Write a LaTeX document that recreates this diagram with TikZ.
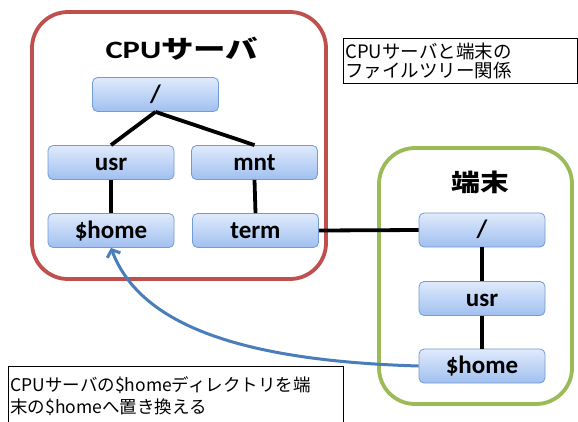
\documentclass[tikz,border=0pt]{standalone}
\usepackage{fontspec}
\usepackage{graphicx}
\setmainfont{Carlito}
\newfontfamily\jp{Noto Sans CJK JP}
\usetikzlibrary{arrows.meta}
\definecolor{redbox}{RGB}{192,80,77}
\definecolor{greenbox}{RGB}{155,187,89}
\definecolor{ntop}{RGB}{224,234,252}
\definecolor{nbot}{RGB}{160,192,240}
\definecolor{nborder}{RGB}{115,155,212}
\definecolor{arrowblue}{RGB}{74,126,187}
\tikzset{
  dirnode/.style={draw=nborder, line width=0.8pt, rounded corners=5pt,
    top color=ntop, bottom color=nbot, minimum width=126pt, minimum height=34pt,
    inner sep=0pt, text height=19pt, text depth=4pt,
    font=\fontsize{25}{25}\selectfont\bfseries},
  conn/.style={line width=3.8pt, draw=black},
  frame/.style={line width=3.8pt, rounded corners=36pt},
  note/.style={draw=black, line width=0.8pt, anchor=north west, align=left,
    inner xsep=2pt, inner ysep=3pt},
  titletext/.style={inner sep=0pt},
}
\begin{document}
\begin{tikzpicture}[x=1pt,y=-1pt]
\clip (0,0) rectangle (578,421);
\fill[white] (0,0) rectangle (578,421);
% frames
\draw[frame, draw=redbox] (32,12) rectangle (326,279);
\draw[frame, draw=greenbox] (379,148) rectangle (572,404);
% titles
\node[titletext] (t1) at (182,49) {\scalebox{1.3}[1]{\fontsize{25}{25}\selectfont\bfseries CPU{\jp サーバ}}};
\node[titletext] (t2) at (480,182) {\scalebox{1.2}[1]{\jp\fontsize{24}{24}\selectfont\bfseries 端末}};
% CPU server tree
\node[dirnode] (r1) at (155.5,94.5) {/};
\node[dirnode] (u1) at (111,162.5) {usr};
\node[dirnode] (m1) at (254.5,162.5) {mnt};
\node[dirnode] (h1) at (111,230.5) {\$home};
\node[dirnode] (tm) at (255.5,230.5) {term};
% terminal tree
\node[dirnode] (r2) at (482,230) {/};
\node[dirnode] (u2) at (482,298.5) {usr};
\node[dirnode] (h2) at (482,366) {\$home};
% connectors
\draw[conn] (r1.south) -- (u1.north);
\draw[conn] (r1.south) -- (m1.north);
\draw[conn] (u1.south) -- (h1.north);
\draw[conn] (m1.south) -- (tm.north);
\draw[conn] (tm.east) -- (r2.west);
\draw[conn] (r2.south) -- (u2.north);
\draw[conn] (u2.south) -- (h2.north);
% blue arrow
\draw[arrowblue, line width=3pt, -{Straight Barb[length=6pt,width=14pt]}]
  (h2.west) .. controls +(-170,-5) and +(30,80) .. (h1.south);
% notes
\node[note, text width=230pt, minimum height=45pt,
  font=\jp\fontsize{18.5}{19.5}\selectfont] (n1) at (343,38)
  {CPUサーバと端末の\\ファイルツリー関係};
\node[note, text width=331pt, minimum height=60pt,
  font=\jp\fontsize{17.5}{22}\selectfont] (n2) at (8,366)
  {CPUサーバの\$homeディレクトリを端\\末の\$homeへ置き換える};
\end{tikzpicture}
\end{document}
